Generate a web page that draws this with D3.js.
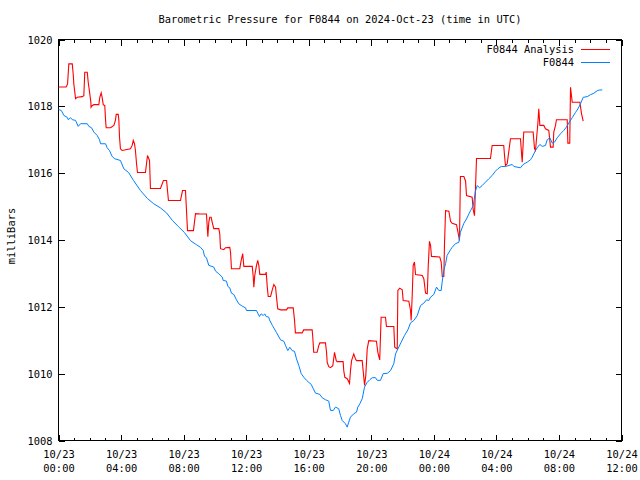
<!DOCTYPE html>
<html>
<head>
<meta charset="utf-8">
<script src="https://cdn.jsdelivr.net/npm/d3@7"></script>
<style>
  html, body { margin: 0; padding: 0; background: #fff; }
  svg { display: block; }
  text { font-family: "DejaVu Sans Mono", "Liberation Mono", monospace; font-size: 10.4px; fill: #000; }
</style>
</head>
<body>
<svg id="chart" width="640" height="480"></svg>
<script>
// ---------------- data ----------------
const titleText = "Barometric Pressure for F0844 on 2024-Oct-23 (time in UTC)";
const yLabelText = "milliBars";
const seriesNames = ["F0844 Analysis", "F0844"];
const seriesColors = ["#ff0000", "#0080ff"];
const startUTC = Date.UTC(2024, 9, 23, 0, 0);
const endUTC = Date.UTC(2024, 9, 24, 12, 0);
const yTicks = [1008, 1010, 1012, 1014, 1016, 1018, 1020];
const xMajorHours = [0, 4, 8, 12, 16, 20, 24, 28, 32, 36];
const xTickDates = ["10/23", "10/23", "10/23", "10/23", "10/23", "10/23", "10/24", "10/24", "10/24", "10/24"];
const xTickTimes = ["00:00", "04:00", "08:00", "12:00", "16:00", "20:00", "00:00", "04:00", "08:00", "12:00"];

// F0844 Analysis (hours since 2024-10-23 00:00 UTC, millibars)
const analysisHours = [0.00,0.49,0.58,0.66,0.88,0.94,0.98,1.09,1.20,1.52,1.62,1.68,1.84,1.90,2.00,2.07,2.08,2.15,2.26,2.58,2.64,2.73,2.79,2.86,2.96,3.01,3.05,3.33,3.54,3.64,3.69,3.82,3.86,3.90,3.96,4.07,4.60,4.71,4.78,4.86,4.92,4.99,5.05,5.56,5.69,5.82,5.88,6.52,6.71,6.91,7.03,7.80,7.93,8.12,8.25,8.63,8.76,9.08,9.46,9.55,9.61,9.67,9.76,9.83,9.93,10.25,10.31,10.36,10.57,10.68,10.95,11.00,11.06,11.59,11.68,11.78,11.85,12.39,12.45,12.49,12.55,12.66,12.74,12.81,12.87,13.24,13.28,13.35,13.41,13.56,13.66,13.77,13.88,13.94,14.02,14.20,14.58,14.66,15.01,15.09,15.15,15.58,15.68,16.22,16.26,16.32,16.54,16.64,16.71,17.07,17.14,17.18,17.28,17.39,17.54,17.65,17.76,17.82,18.20,18.24,18.31,18.46,18.61,18.67,18.74,18.88,18.99,19.06,19.42,19.48,19.57,19.65,19.74,19.84,20.33,20.42,20.54,20.63,20.91,20.97,21.44,21.50,21.66,21.70,21.82,21.98,22.04,22.40,22.51,22.55,22.62,22.68,22.76,22.83,23.26,23.36,23.47,23.58,23.64,23.72,23.79,23.85,24.38,24.47,24.54,24.64,24.68,24.75,24.96,25.07,25.17,25.45,25.56,25.64,25.70,25.92,26.03,26.09,26.45,26.52,26.60,26.73,27.62,27.73,28.47,28.52,28.58,28.69,28.90,29.54,29.61,29.65,29.75,30.35,30.44,30.50,30.65,30.71,30.78,31.03,31.14,31.35,31.46,31.63,31.67,31.78,31.84,32.53,32.57,32.69,32.74,32.80,32.85,33.34,33.44,33.55];
const analysisMb = [1018.58,1018.58,1018.67,1019.27,1019.27,1018.97,1018.67,1018.23,1018.27,1018.29,1018.32,1019.02,1019.02,1018.72,1018.38,1018.12,1017.97,1018.02,1018.05,1018.05,1018.27,1018.40,1018.27,1018.05,1018.02,1017.58,1017.36,1017.36,1017.43,1017.58,1017.76,1017.76,1017.58,1017.08,1016.73,1016.68,1016.73,1016.83,1016.98,1016.88,1016.68,1016.28,1016.02,1016.02,1016.53,1016.38,1015.54,1015.54,1015.78,1015.78,1015.18,1015.18,1015.48,1015.48,1014.28,1014.28,1014.79,1014.78,1014.78,1014.10,1014.53,1014.68,1014.68,1014.53,1014.34,1014.34,1014.19,1013.74,1013.71,1013.77,1013.78,1013.64,1013.14,1013.14,1013.39,1013.59,1013.21,1013.21,1012.91,1012.59,1012.94,1013.24,1013.39,1013.24,1012.97,1012.97,1013.04,1012.59,1012.31,1012.31,1012.49,1012.67,1012.59,1012.29,1011.94,1011.91,1011.91,1011.97,1011.97,1011.61,1011.22,1011.22,1011.31,1011.31,1011.09,1010.64,1010.64,1010.84,1010.92,1010.92,1010.64,1010.34,1010.21,1010.18,1010.24,1010.64,1010.39,1010.36,1010.36,1010.09,1009.89,1009.85,1009.71,1010.09,1010.39,1010.59,1010.44,1010.39,1010.39,1010.09,1009.65,1009.95,1010.74,1010.99,1010.97,1010.64,1010.41,1011.69,1011.69,1011.41,1011.41,1010.79,1010.74,1012.49,1012.56,1012.51,1012.19,1012.17,1011.89,1011.59,1012.37,1013.24,1013.34,1012.97,1012.94,1012.84,1012.41,1012.39,1013.19,1013.96,1013.84,1013.51,1013.49,1013.34,1012.91,1012.91,1013.84,1014.88,1014.86,1014.56,1014.50,1014.46,1014.19,1013.99,1015.90,1015.90,1015.76,1015.33,1015.28,1014.90,1014.73,1016.44,1016.44,1016.83,1016.83,1016.53,1016.23,1016.28,1017.03,1017.03,1016.58,1016.33,1017.23,1017.23,1016.73,1016.68,1017.48,1017.93,1017.43,1017.43,1017.33,1017.28,1016.78,1016.78,1017.23,1017.43,1017.60,1017.60,1016.90,1016.90,1018.57,1018.32,1018.12,1018.12,1017.79,1017.56];

// F0844 observations
const obsHours = [0.00,0.19,0.34,0.56,0.62,0.77,0.88,1.09,1.26,1.41,1.84,1.94,2.11,2.26,2.47,2.62,2.69,3.01,3.11,3.26,3.43,3.60,3.96,4.18,4.48,4.80,5.24,5.69,6.07,6.52,6.91,7.29,7.67,8.06,8.44,8.82,9.08,9.25,9.34,9.46,9.61,9.93,10.04,10.25,10.47,10.53,10.74,10.83,10.95,11.06,11.21,11.38,11.53,11.75,11.96,12.02,12.66,12.74,12.85,12.96,13.09,13.19,13.28,13.45,13.49,13.68,13.94,14.20,14.41,14.52,14.66,14.79,14.94,15.09,15.22,15.37,15.52,15.69,15.86,16.00,16.16,16.29,16.43,16.71,16.86,17.07,17.28,17.39,17.57,17.71,17.92,18.03,18.14,18.35,18.46,18.56,18.67,18.88,19.06,19.14,19.27,19.42,19.57,19.74,19.91,20.06,20.27,20.38,20.59,20.76,21.02,21.23,21.44,21.55,21.70,21.91,22.12,22.34,22.51,22.72,22.94,23.15,23.36,23.53,23.68,23.79,24.00,24.17,24.32,24.47,24.54,24.64,24.75,24.85,25.07,25.17,25.38,25.60,25.70,25.92,26.09,26.24,26.35,26.52,26.67,26.78,26.92,27.09,27.30,27.51,27.73,27.94,28.09,28.31,28.58,29.01,29.12,29.54,29.71,29.97,30.18,30.29,30.50,30.61,30.78,30.93,31.14,31.25,31.42,31.57,31.72,31.89,32.10,32.31,32.48,32.63,32.85,33.06,33.21,33.38,33.55,33.81,34.02,34.23,34.45,34.61,34.77];
const obsMb = [1017.91,1017.87,1017.73,1017.67,1017.60,1017.66,1017.60,1017.58,1017.40,1017.48,1017.48,1017.40,1017.36,1017.23,1017.13,1017.00,1016.88,1016.88,1016.76,1016.68,1016.50,1016.43,1016.38,1016.13,1016.02,1015.78,1015.48,1015.24,1015.09,1014.96,1014.81,1014.58,1014.40,1014.22,1013.98,1013.86,1013.78,1013.69,1013.51,1013.47,1013.24,1013.19,1013.07,1012.99,1012.89,1012.79,1012.77,1012.61,1012.57,1012.41,1012.37,1012.21,1012.09,1012.02,1011.97,1011.89,1011.89,1011.81,1011.71,1011.79,1011.74,1011.79,1011.71,1011.69,1011.61,1011.44,1011.23,1011.01,1010.97,1010.84,1010.69,1010.79,1010.69,1010.67,1010.44,1010.24,1010.00,1009.89,1009.80,1009.74,1009.68,1009.55,1009.42,1009.38,1009.28,1009.22,1009.18,1008.90,1008.90,1009.00,1008.95,1008.75,1008.60,1008.50,1008.40,1008.55,1008.70,1008.80,1008.85,1009.00,1009.10,1009.25,1009.60,1009.74,1009.82,1009.88,1009.88,1009.80,1009.80,1010.00,1010.01,1010.09,1010.30,1010.59,1010.74,1010.94,1011.14,1011.31,1011.52,1011.59,1011.74,1012.04,1012.11,1012.21,1012.19,1012.29,1012.37,1012.59,1012.49,1012.49,1012.77,1013.09,1013.29,1013.54,1013.71,1013.78,1013.89,1013.93,1014.23,1014.50,1014.63,1014.78,1014.88,1015.03,1015.48,1015.63,1015.56,1015.63,1015.73,1015.83,1015.93,1016.06,1016.13,1016.20,1016.20,1016.26,1016.20,1016.16,1016.26,1016.33,1016.40,1016.48,1016.68,1016.76,1016.86,1016.80,1016.83,1017.00,1017.06,1016.90,1016.93,1017.06,1017.18,1017.28,1017.38,1017.50,1017.66,1017.82,1017.92,1018.08,1018.27,1018.29,1018.35,1018.39,1018.47,1018.49,1018.49];

// ---------------- chart ----------------
const hourDate = h => new Date(startUTC + h * 3600000);
const svg = d3.select("#chart");
const L = 58.5, R = 621.5, T = 39.5, B = 440.5;

const x = d3.scaleUtc().domain([new Date(startUTC), new Date(endUTC)]).range([L, R]);
const y = d3.scaleLinear().domain([1008, 1020]).range([B, T]);

// title
svg.append("text").attr("x", (L + R) / 2).attr("y", 23).attr("text-anchor", "middle").text(titleText);

// y label
svg.append("text").attr("transform", "translate(15,236) rotate(-90)").attr("text-anchor", "middle").text(yLabelText);

const hourly = d3.range(0, 37).map(hourDate);
const majors = xMajorHours.map(hourDate);

function styleAxis(g) {
  g.select(".domain").remove();
  g.selectAll(".tick line").attr("stroke", "#000").attr("shape-rendering", "crispEdges");
}

// minor x ticks (bottom & top)
svg.append("g").attr("transform", `translate(0,${B})`)
  .call(d3.axisBottom(x).tickValues(hourly).tickSize(-3).tickFormat(""))
  .call(styleAxis);
svg.append("g").attr("transform", `translate(0,${T})`)
  .call(d3.axisTop(x).tickValues(hourly).tickSize(-3).tickFormat(""))
  .call(styleAxis);

// major x ticks with two-line labels
const xb = svg.append("g").attr("transform", `translate(0,${B})`)
  .call(d3.axisBottom(x).tickValues(majors).tickSize(-6).tickPadding(9).tickFormat(""))
  .call(styleAxis);
xb.selectAll(".tick").each(function(d, i) {
  const t = d3.select(this).select("text")
    .attr("font-family", null).attr("font-size", null).attr("dy", null)
    .attr("y", 17).attr("text-anchor", "middle");
  t.append("tspan").attr("x", 0).attr("y", 17).text(xTickDates[i]);
  t.append("tspan").attr("x", 0).attr("y", 31).text(xTickTimes[i]);
});
svg.append("g").attr("transform", `translate(0,${T})`)
  .call(d3.axisTop(x).tickValues(majors).tickSize(-6).tickFormat(""))
  .call(styleAxis);

// y ticks
const yl = svg.append("g").attr("transform", `translate(${L},0)`)
  .call(d3.axisLeft(y).tickValues(yTicks).tickSize(-6).tickPadding(6).tickFormat(d3.format("d")))
  .call(styleAxis);
yl.selectAll(".tick text").attr("font-family", null).attr("font-size", null).attr("dy", "0.35em");
svg.append("g").attr("transform", `translate(${R},0)`)
  .call(d3.axisRight(y).tickValues(yTicks).tickSize(-6).tickFormat(""))
  .call(styleAxis);

// border
svg.append("rect").attr("x", L).attr("y", T).attr("width", R - L).attr("height", B - T)
  .attr("fill", "none").attr("stroke", "#000").attr("shape-rendering", "crispEdges");

// lines
const line = d3.line().x(d => x(hourDate(d[0]))).y(d => y(d[1]));
const analysisData = analysisHours.map((h, i) => [h, analysisMb[i]]);
const obsData = obsHours.map((h, i) => [h, obsMb[i]]);

svg.append("path").datum(analysisData).attr("d", line)
  .attr("fill", "none").attr("stroke", seriesColors[0]).attr("stroke-width", 1.1);
svg.append("path").datum(obsData).attr("d", line)
  .attr("fill", "none").attr("stroke", seriesColors[1]).attr("stroke-width", 1);

// legend
const leg = svg.append("g");
[49.5, 62.5].forEach((ly, i) => {
  leg.append("text").attr("x", 574).attr("y", ly).attr("dy", "0.35em").attr("text-anchor", "end").text(seriesNames[i]);
  leg.append("line").attr("x1", 581).attr("x2", 610).attr("y1", ly).attr("y2", ly)
    .attr("stroke", seriesColors[i]).attr("stroke-width", 1).attr("shape-rendering", "crispEdges");
});
</script>
</body>
</html>
